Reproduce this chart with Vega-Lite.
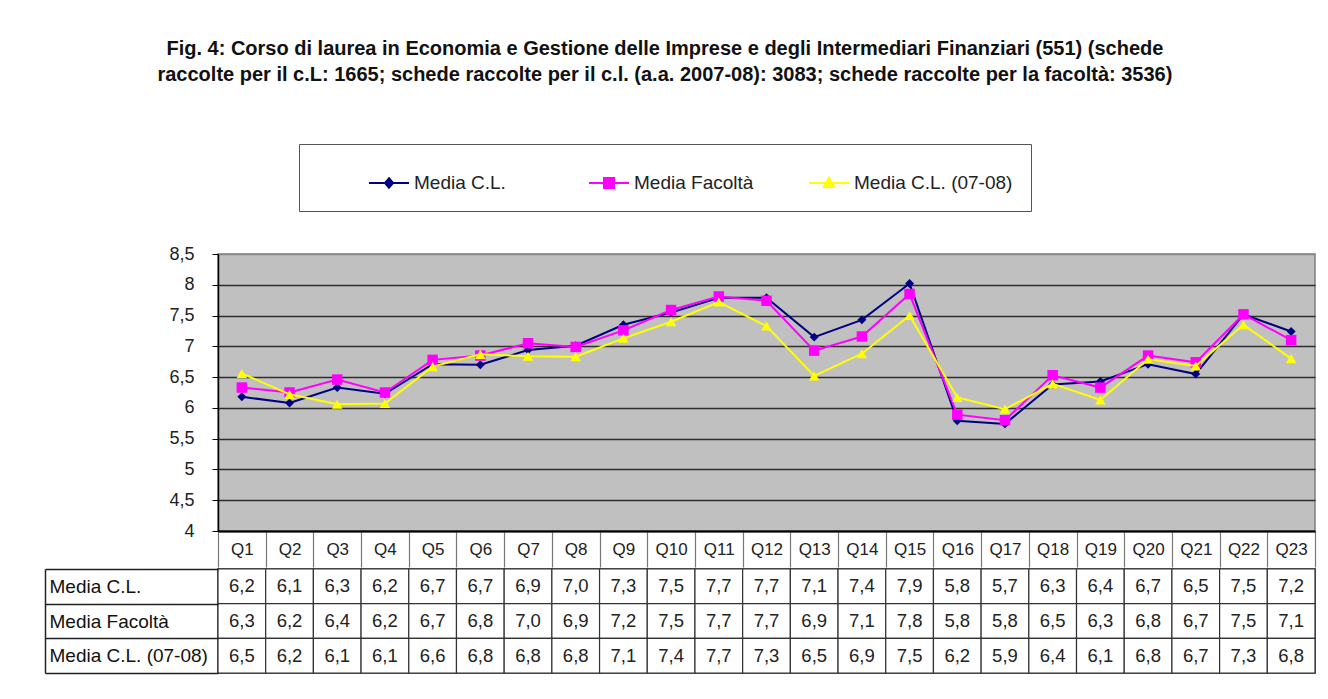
{
  "$schema": "https://vega.github.io/schema/vega-lite/v6.json",
  "padding": {"left": 43, "top": 38, "right": 10, "bottom": 10},
  "background": "white",
  "spacing": -13,
  "config": {
    "locale": {"number": {"decimal": ",", "thousands": ".", "grouping": [3], "currency": ["", " €"]}},
    "font": "Liberation Sans"
  },
  "title": {
    "text": ["Fig. 4: Corso di laurea in Economia e Gestione delle Imprese e degli Intermediari Finanziari (551) (schede", "raccolte per il c.L: 1665; schede raccolte per il c.l. (a.a. 2007-08): 3083; schede raccolte per la facoltà: 3536)"],
    "anchor": "middle", "frame": "bounds", "fontSize": 20, "fontWeight": "bold", "font": "Liberation Sans",
    "lineHeight": 26, "offset": 59, "color": "#111", "dx": -15
  },
  "data": {"values": [
    {"q":"Q1","s":"Media C.L.","v":6.18,"t":6.2},{"q":"Q2","s":"Media C.L.","v":6.08,"t":6.1},{"q":"Q3","s":"Media C.L.","v":6.33,"t":6.3},{"q":"Q4","s":"Media C.L.","v":6.23,"t":6.2},{"q":"Q5","s":"Media C.L.","v":6.71,"t":6.7},{"q":"Q6","s":"Media C.L.","v":6.70,"t":6.7},{"q":"Q7","s":"Media C.L.","v":6.94,"t":6.9},{"q":"Q8","s":"Media C.L.","v":7.01,"t":7.0},{"q":"Q9","s":"Media C.L.","v":7.35,"t":7.3},{"q":"Q10","s":"Media C.L.","v":7.55,"t":7.5},{"q":"Q11","s":"Media C.L.","v":7.79,"t":7.7},{"q":"Q12","s":"Media C.L.","v":7.79,"t":7.7},{"q":"Q13","s":"Media C.L.","v":7.15,"t":7.1},{"q":"Q14","s":"Media C.L.","v":7.43,"t":7.4},{"q":"Q15","s":"Media C.L.","v":8.02,"t":7.9},{"q":"Q16","s":"Media C.L.","v":5.79,"t":5.8},{"q":"Q17","s":"Media C.L.","v":5.74,"t":5.7},{"q":"Q18","s":"Media C.L.","v":6.38,"t":6.3},{"q":"Q19","s":"Media C.L.","v":6.43,"t":6.4},{"q":"Q20","s":"Media C.L.","v":6.71,"t":6.7},{"q":"Q21","s":"Media C.L.","v":6.55,"t":6.5},{"q":"Q22","s":"Media C.L.","v":7.52,"t":7.5},{"q":"Q23","s":"Media C.L.","v":7.24,"t":7.2},
    {"q":"Q1","s":"Media Facoltà","v":6.33,"t":6.3},{"q":"Q2","s":"Media Facoltà","v":6.25,"t":6.2},{"q":"Q3","s":"Media Facoltà","v":6.46,"t":6.4},{"q":"Q4","s":"Media Facoltà","v":6.25,"t":6.2},{"q":"Q5","s":"Media Facoltà","v":6.78,"t":6.7},{"q":"Q6","s":"Media Facoltà","v":6.85,"t":6.8},{"q":"Q7","s":"Media Facoltà","v":7.05,"t":7.0},{"q":"Q8","s":"Media Facoltà","v":6.99,"t":6.9},{"q":"Q9","s":"Media Facoltà","v":7.26,"t":7.2},{"q":"Q10","s":"Media Facoltà","v":7.59,"t":7.5},{"q":"Q11","s":"Media Facoltà","v":7.81,"t":7.7},{"q":"Q12","s":"Media Facoltà","v":7.74,"t":7.7},{"q":"Q13","s":"Media Facoltà","v":6.93,"t":6.9},{"q":"Q14","s":"Media Facoltà","v":7.16,"t":7.1},{"q":"Q15","s":"Media Facoltà","v":7.85,"t":7.8},{"q":"Q16","s":"Media Facoltà","v":5.89,"t":5.8},{"q":"Q17","s":"Media Facoltà","v":5.80,"t":5.8},{"q":"Q18","s":"Media Facoltà","v":6.53,"t":6.5},{"q":"Q19","s":"Media Facoltà","v":6.33,"t":6.3},{"q":"Q20","s":"Media Facoltà","v":6.85,"t":6.8},{"q":"Q21","s":"Media Facoltà","v":6.74,"t":6.7},{"q":"Q22","s":"Media Facoltà","v":7.52,"t":7.5},{"q":"Q23","s":"Media Facoltà","v":7.10,"t":7.1},
    {"q":"Q1","s":"Media C.L. (07-08)","v":6.56,"t":6.5},{"q":"Q2","s":"Media C.L. (07-08)","v":6.22,"t":6.2},{"q":"Q3","s":"Media C.L. (07-08)","v":6.06,"t":6.1},{"q":"Q4","s":"Media C.L. (07-08)","v":6.07,"t":6.1},{"q":"Q5","s":"Media C.L. (07-08)","v":6.67,"t":6.6},{"q":"Q6","s":"Media C.L. (07-08)","v":6.87,"t":6.8},{"q":"Q7","s":"Media C.L. (07-08)","v":6.84,"t":6.8},{"q":"Q8","s":"Media C.L. (07-08)","v":6.83,"t":6.8},{"q":"Q9","s":"Media C.L. (07-08)","v":7.13,"t":7.1},{"q":"Q10","s":"Media C.L. (07-08)","v":7.40,"t":7.4},{"q":"Q11","s":"Media C.L. (07-08)","v":7.72,"t":7.7},{"q":"Q12","s":"Media C.L. (07-08)","v":7.33,"t":7.3},{"q":"Q13","s":"Media C.L. (07-08)","v":6.52,"t":6.5},{"q":"Q14","s":"Media C.L. (07-08)","v":6.88,"t":6.9},{"q":"Q15","s":"Media C.L. (07-08)","v":7.50,"t":7.5},{"q":"Q16","s":"Media C.L. (07-08)","v":6.17,"t":6.2},{"q":"Q17","s":"Media C.L. (07-08)","v":5.98,"t":5.9},{"q":"Q18","s":"Media C.L. (07-08)","v":6.39,"t":6.4},{"q":"Q19","s":"Media C.L. (07-08)","v":6.13,"t":6.1},{"q":"Q20","s":"Media C.L. (07-08)","v":6.79,"t":6.8},{"q":"Q21","s":"Media C.L. (07-08)","v":6.68,"t":6.7},{"q":"Q22","s":"Media C.L. (07-08)","v":7.35,"t":7.3},{"q":"Q23","s":"Media C.L. (07-08)","v":6.80,"t":6.8}
  ]},
  "vconcat": [
    {
      "width": 1097, "height": 277,
      "view": {"fill": "#C0C0C0", "stroke": "#808080", "strokeWidth": 1.5},
      "encoding": {
        "x": {"field": "q", "type": "ordinal", "bandPosition": 0.5,
          "sort": ["Q1","Q2","Q3","Q4","Q5","Q6","Q7","Q8","Q9","Q10","Q11","Q12","Q13","Q14","Q15","Q16","Q17","Q18","Q19","Q20","Q21","Q22","Q23"],
          "scale": {"type": "band", "paddingInner": 0, "paddingOuter": 0},
          "axis": {"title": null, "orient": "bottom", "tickBand": "extent", "tickSize": 36, "tickColor": "#777", "tickWidth": 1.2,
            "labelPadding": -26, "labelFontSize": 17, "labelColor": "#222", "labelAngle": 0, "domainColor": "#000", "domainWidth": 2, "grid": false}},
        "y": {"field": "v", "type": "quantitative",
          "scale": {"domain": [4, 8.5], "nice": false, "zero": false},
          "axis": {"title": null, "values": [4, 4.5, 5, 5.5, 6, 6.5, 7, 7.5, 8, 8.5], "format": "~g",
            "grid": true, "gridColor": {"condition": {"test": "datum.value === 8.5", "value": "#888888"}, "value": "#2e2e2e"}, "gridWidth": 1.6,
            "tickSize": 6, "tickColor": "#000", "labelPadding": 18, "labelFontSize": 18, "labelColor": "#222",
            "domainColor": "#000", "domainWidth": 1.5}},
        "color": {"field": "s", "type": "nominal",
          "scale": {"domain": ["Media C.L.", "Media Facoltà", "Media C.L. (07-08)"], "range": ["#000080", "#FF00FF", "#FFFF00"]},
          "legend": {"title": "\u00a0", "titleOrient": "left", "titleFontSize": 1, "titlePadding": 51,
            "orient": "none", "legendX": 81, "legendY": -110, "direction": "horizontal", "columns": 3, "gridAlign": "all",
            "columnPadding": 12, "padding": 18, "strokeColor": "#555", "fillColor": "#ffffff",
            "symbolSize": 1600, "labelFontSize": 19, "labelColor": "#222", "labelOffset": 4, "labelLimit": 0,
            "encode": {"symbols": {"update": {
              "shape": {"signal": "datum.value === 'Media C.L.' ? 'M-1,0L1,0M0,-0.24L0.2,0L0,0.24L-0.2,0Z' : datum.value === 'Media Facoltà' ? 'M-1,0L1,0M-0.25,-0.25L0.25,-0.25L0.25,0.25L-0.25,0.25Z' : 'M-1,0L1,0M0,-0.26L0.25,0.2L-0.25,0.2Z'"},
              "fill": {"scale": "color", "field": "value"},
              "stroke": {"scale": "color", "field": "value"},
              "strokeWidth": {"value": 2},
              "size": {"value": 1600},
              "opacity": {"value": 1}}}}}}
      },
      "layer": [
        {"transform": [{"filter": "datum.s === 'Media C.L.'"}], "mark": {"type": "line", "strokeWidth": 2}},
        {"transform": [{"filter": "datum.s === 'Media C.L.'"}], "mark": {"type": "point", "shape": "diamond", "filled": true, "size": 80, "opacity": 1}},
        {"transform": [{"filter": "datum.s === 'Media Facoltà'"}], "mark": {"type": "line", "strokeWidth": 2}},
        {"transform": [{"filter": "datum.s === 'Media Facoltà'"}], "mark": {"type": "point", "shape": "square", "filled": true, "size": 110, "opacity": 1}},
        {"transform": [{"filter": "datum.s === 'Media C.L. (07-08)'"}], "mark": {"type": "line", "strokeWidth": 2}},
        {"transform": [{"filter": "datum.s === 'Media C.L. (07-08)'"}], "mark": {"type": "point", "shape": "triangle-up", "filled": true, "size": 110, "opacity": 1}}
      ]
    },
    {
      "width": 1097, "height": 104,
      "view": {"stroke": "#222", "strokeWidth": 1.5},
      "encoding": {
        "x": {"field": "q", "type": "ordinal",
          "sort": ["Q1","Q2","Q3","Q4","Q5","Q6","Q7","Q8","Q9","Q10","Q11","Q12","Q13","Q14","Q15","Q16","Q17","Q18","Q19","Q20","Q21","Q22","Q23"],
          "scale": {"type": "band", "paddingInner": 0, "paddingOuter": 0}, "axis": null},
        "y": {"field": "s", "type": "nominal",
          "sort": ["Media C.L.", "Media Facoltà", "Media C.L. (07-08)"],
          "scale": {"type": "band", "paddingInner": 0, "paddingOuter": 0},
          "axis": {"title": null, "orient": "left", "offset": 173, "tickSize": -173, "tickBand": "extent", "tickColor": "#222", "tickWidth": 1.5,
            "domainColor": "#222", "domainWidth": 1.5, "labelAlign": "left", "labelPadding": 169, "labelFontSize": 19, "labelColor": "#111", "labelLimit": 0}}
      },
      "layer": [
        {"mark": {"type": "rect", "fill": "#ffffff", "stroke": "#333", "strokeWidth": 1.2}},
        {"mark": {"type": "text", "fontSize": 18.5, "color": "#222"}, "encoding": {"text": {"field": "t", "type": "quantitative", "format": ".1f"}}}
      ]
    }
  ]
}
